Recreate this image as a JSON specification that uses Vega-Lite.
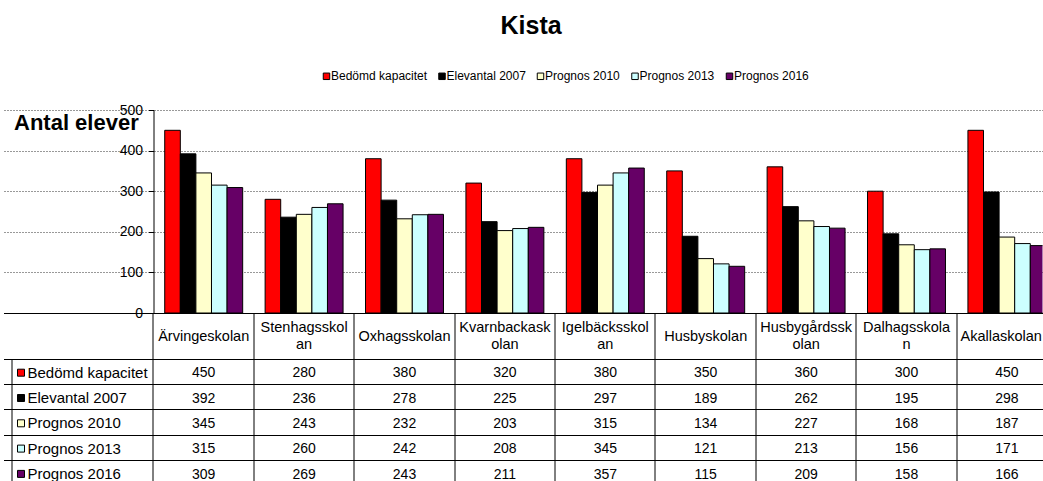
{
  "$schema": "https://vega.github.io/schema/vega-lite/v6.json",
  "padding": {"left": 10.5, "top": 14, "right": 0, "bottom": 0},
  "background": "white",
  "title": {"text": "Kista", "fontSize": 25, "fontWeight": "bold", "font": "Liberation Sans", "anchor": "middle", "offset": 31, "color": "black", "dx": -78},
  "data": {"values": [
    {"school": "Ärvingeskolan", "Bedömd kapacitet": 450, "Elevantal 2007": 392, "Prognos 2010": 345, "Prognos 2013": 315, "Prognos 2016": 309},
    {"school": "Stenhagsskolan", "Bedömd kapacitet": 280, "Elevantal 2007": 236, "Prognos 2010": 243, "Prognos 2013": 260, "Prognos 2016": 269},
    {"school": "Oxhagsskolan", "Bedömd kapacitet": 380, "Elevantal 2007": 278, "Prognos 2010": 232, "Prognos 2013": 242, "Prognos 2016": 243},
    {"school": "Kvarnbackaskolan", "Bedömd kapacitet": 320, "Elevantal 2007": 225, "Prognos 2010": 203, "Prognos 2013": 208, "Prognos 2016": 211},
    {"school": "Igelbäcksskolan", "Bedömd kapacitet": 380, "Elevantal 2007": 297, "Prognos 2010": 315, "Prognos 2013": 345, "Prognos 2016": 357},
    {"school": "Husbyskolan", "Bedömd kapacitet": 350, "Elevantal 2007": 189, "Prognos 2010": 134, "Prognos 2013": 121, "Prognos 2016": 115},
    {"school": "Husbygårdsskolan", "Bedömd kapacitet": 360, "Elevantal 2007": 262, "Prognos 2010": 227, "Prognos 2013": 213, "Prognos 2016": 209},
    {"school": "Dalhagsskolan", "Bedömd kapacitet": 300, "Elevantal 2007": 195, "Prognos 2010": 168, "Prognos 2013": 156, "Prognos 2016": 158},
    {"school": "Akallaskolan", "Bedömd kapacitet": 450, "Elevantal 2007": 298, "Prognos 2010": 187, "Prognos 2013": 171, "Prognos 2016": 166}
  ]},
  "transform": [{"fold": ["Bedömd kapacitet", "Elevantal 2007", "Prognos 2010", "Prognos 2013", "Prognos 2016"], "as": ["series", "value"]}],
  "bounds": "flush",
  "spacing": 46,
  "resolve": {"legend": {"fill": "independent"}},
  "config": {
    "view": {"stroke": null},
    "font": "Liberation Sans",
    "axis": {"labelColor": "black", "titleColor": "black", "labelFont": "Liberation Sans"},
    "legend": {"labelColor": "black", "labelFont": "Liberation Sans"}
  },
  "vconcat": [
    {
      "width": 889,
      "height": 203,
      "mark": {"type": "bar", "stroke": "black", "strokeWidth": 1, "clip": true},
      "encoding": {
        "x": {"field": "school", "type": "nominal",
          "scale": {"type": "band", "domain": ["Ärvingeskolan", "Stenhagsskolan", "Oxhagsskolan", "Kvarnbackaskolan", "Igelbäcksskolan", "Husbyskolan", "Husbygårdsskolan", "Dalhagsskolan", "Akallaskolan"], "range": [-150, 903.6], "paddingInner": 0, "paddingOuter": 0.747, "align": 1},
          "axis": null},
        "xOffset": {"field": "series", "type": "nominal",
          "scale": {"domain": ["Bedömd kapacitet", "Elevantal 2007", "Prognos 2010", "Prognos 2013", "Prognos 2016"], "paddingInner": 0, "paddingOuter": 0.72}},
        "y": {"field": "value", "type": "quantitative",
          "scale": {"domain": [0, 500], "nice": false},
          "axis": {"title": "Antal elever", "titleAngle": 0, "titleAlign": "left", "titleBaseline": "alphabetic", "titleX": -140, "titleY": 19.3, "titleFontSize": 22, "titleFontWeight": "bold", "titleFont": "Liberation Sans",
            "values": [0, 100, 200, 300, 400, 500], "labelFontSize": 14, "labelPadding": 6, "tickSize": 5, "tickColor": "black", "domainColor": "black",
            "grid": true,
            "gridColor": {"condition": {"test": "datum.value === 0", "value": "black"}, "value": "#999999"},
            "gridDash": {"condition": {"test": "datum.value === 0", "value": []}, "value": [2, 1]}}},
        "fill": {"field": "series", "type": "nominal",
          "scale": {"domain": ["Bedömd kapacitet", "Elevantal 2007", "Prognos 2010", "Prognos 2013", "Prognos 2016"], "range": ["#FF0000", "#000000", "#FFFFCC", "#CCFFFF", "#660066"]},
          "legend": {"orient": "none", "direction": "horizontal", "legendX": 167, "legendY": -39.7, "title": null, "symbolType": "square", "symbolSize": 42, "symbolStrokeColor": "black", "symbolStrokeWidth": 1, "symbolOpacity": 1, "labelFontSize": 12, "labelOffset": -1.5, "columnPadding": 8.5, "padding": 0}}
      }
    },
    {
      "width": 889,
      "height": 121,
      "encoding": {
        "x": {"field": "school", "type": "nominal",
          "scale": {"type": "band", "domain": ["Ärvingeskolan", "Stenhagsskolan", "Oxhagsskolan", "Kvarnbackaskolan", "Igelbäcksskolan", "Husbyskolan", "Husbygårdsskolan", "Dalhagsskolan", "Akallaskolan"], "range": [-150, 903.6], "paddingInner": 0, "paddingOuter": 0.747, "align": 1},
          "axis": {"orient": "top", "title": null, "domain": false, "ticks": true, "tickSize": 46, "tickColor": "black", "bandPosition": 0, "tickExtra": false,
            "grid": true, "gridColor": "black", "labelAngle": 0, "labelFontSize": 14.5,
            "labelPadding": {"condition": {"test": "indexof(['Stenhagsskolan','Kvarnbackaskolan','Igelbäcksskolan','Husbygårdsskolan','Dalhagsskolan'], datum.value) >= 0", "value": -14.5}, "value": -23},
            "labelBaseline": "middle", "labelLineHeight": 16.5,
            "labelFlush": 101, "labelFlushOffset": 35, "labelLimit": 0,
            "labelExpr": "datum.label == 'Stenhagsskolan' ? ['Stenhagsskol', 'an'] : datum.label == 'Kvarnbackaskolan' ? ['Kvarnbackask', 'olan'] : datum.label == 'Igelbäcksskolan' ? ['Igelbäcksskol', 'an'] : datum.label == 'Husbygårdsskolan' ? ['Husbygårdssk', 'olan'] : datum.label == 'Dalhagsskolan' ? ['Dalhagsskola', 'n'] : datum.label"}},
        "y": {"field": "series", "type": "nominal",
          "scale": {"type": "band", "domain": ["Bedömd kapacitet", "Elevantal 2007", "Prognos 2010", "Prognos 2013", "Prognos 2016"], "range": [0, 127], "paddingInner": 0, "paddingOuter": 0},
          "axis": {"orient": "left", "title": null, "offset": 142, "labels": false, "domain": true, "domainColor": "black", "ticks": true, "tickSize": -142, "tickColor": "black", "bandPosition": 0, "tickExtra": false, "grid": true, "gridColor": "black"}}
      },
      "layer": [
        {"mark": {"type": "text", "fontSize": 14, "color": "black", "clip": true, "dy": 1.5},
         "encoding": {"text": {"field": "value", "type": "quantitative"}}},
        {"mark": {"type": "point", "shape": "square", "filled": true, "size": 0, "opacity": 1},
         "encoding": {"fill": {"field": "series", "type": "nominal",
           "scale": {"domain": ["Bedömd kapacitet", "Elevantal 2007", "Prognos 2010", "Prognos 2013", "Prognos 2016"], "range": ["#FF0000", "#000000", "#FFFFCC", "#CCFFFF", "#660066"]},
           "legend": {"orient": "none", "direction": "vertical", "legendX": -140, "legendY": 6.2, "title": null, "symbolType": "square", "symbolSize": 49, "symbolStrokeColor": "black", "symbolStrokeWidth": 1, "symbolOpacity": 1, "labelFontSize": 15, "labelOffset": -1, "rowPadding": 9.3, "padding": 0}}}}
      ]
    }
  ]
}
